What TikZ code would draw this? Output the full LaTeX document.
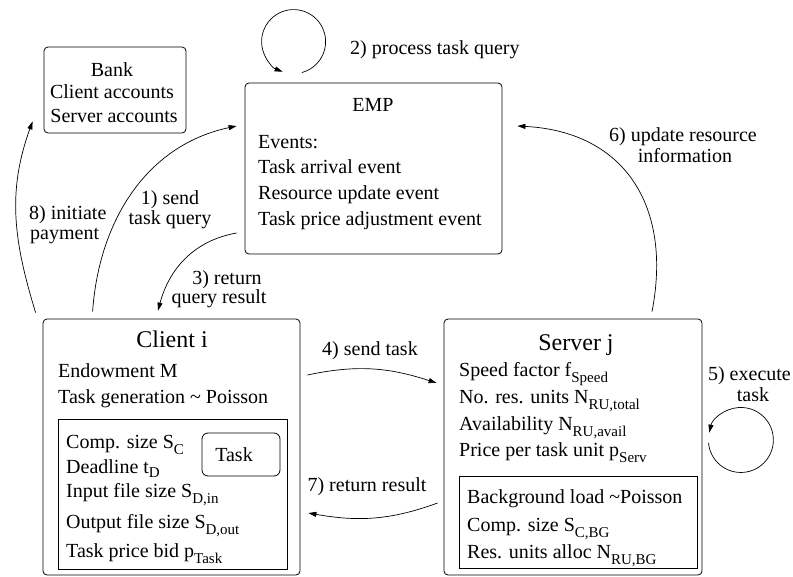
\documentclass[tikz,border=0pt]{standalone}
\usepackage{fontspec}
\setmainfont{Liberation Serif}
\usetikzlibrary{
positioning,%
arrows.meta
}
\newcommand{\lowsub}[2][6pt]{\raisebox{-#1}{\fontsize{15}{15}\selectfont #2}}
\tikzset{
    box/.style={draw, rounded corners=4pt, line width=0.8pt, inner sep=0pt},
    subbox/.style={draw, line width=0.8pt, inner sep=0pt},
    txt/.style={inner sep=0pt, anchor=base west, font=\fontsize{20}{24}\selectfont},
    ctxt/.style={inner sep=0pt, anchor=base, font=\fontsize{20}{24}\selectfont},
    head/.style={inner sep=0pt, anchor=base, font=\fontsize{24}{28}\selectfont},
    flow/.style={-{Triangle[length=8pt,width=5pt]}, line width=0.7pt}
}

\begin{document}
\begin{tikzpicture}[x=1pt, y=1pt]
            \useasboundingbox (0,0) rectangle (793,-576);
            % ---- boxes
            \node[box, minimum width=142, minimum height=86] (bank) at (115,-90) {};
            \node[box, minimum width=257, minimum height=171] (emp) at (373.5,-168.5) {};
            \node[box, minimum width=257, minimum height=256] (client) at (171.5,-447) {};
            \node[subbox, minimum width=229, minimum height=150] (clin) at (172.5,-494) {};
            \node[box, rounded corners=6pt, minimum width=78, minimum height=43] (task) at (241,-454.5) {};
            \node[box, minimum width=258, minimum height=256] (server) at (573,-447) {};
            \node[subbox, minimum width=238, minimum height=92] (srvin) at (578,-522) {};
            % ---- bank
            \node[ctxt] (bank0) at (112,-76) {Bank};
            \node[ctxt] (bank1) at (112,-98) {Client accounts};
            \node[ctxt] (bank2) at (114,-122) {Server accounts};
            % ---- emp
            \node[ctxt] (emp0) at (373,-111) {EMP};
            \node[txt] (emp1) at (258,-148) {Events:};
            \node[txt] (emp2) at (258,-173) {Task arrival event};
            \node[txt] (emp3) at (258,-199) {Resource update event};
            \node[txt] (emp4) at (258,-225) {Task price adjustment event};
            % ---- client
            \node[head] (cl0) at (172,-347) {Client i};
            \node[txt] (cl1) at (58,-377) {Endowment M};
            \node[txt] (cl2) at (58,-403) {Task generation \textasciitilde{} Poisson};
            \node[txt] (cl3) at (66,-448) {Comp. size S\lowsub{C}};
            \node[txt] (cl4) at (66,-473) {Deadline t\lowsub[4pt]{D}};
            \node[txt] (cl5) at (66,-497) {Input file size S\lowsub{D,in}};
            \node[txt] (cl6) at (66,-528) {Output file size S\lowsub{D,out}};
            \node[txt] (cl7) at (66,-557) {Task price bid p\lowsub{Task}};
            \node[ctxt] (task0) at (234,-461) {Task};
            % ---- server
            \node[head] (sv0) at (576,-350) {Server j};
            \node[txt] (sv1) at (459,-376) {Speed factor f\lowsub{Speed}};
            \node[txt] (sv2) at (459,-403) {No. res. units N\lowsub{RU,total}};
            \node[txt] (sv3) at (459,-430) {Availability N\lowsub{RU,avail}};
            \node[txt] (sv4) at (459,-456) {Price per task unit p\lowsub{Serv}};
            \node[txt] (sv5) at (467,-503) {Background load \textasciitilde Poisson};
            \node[txt] (sv6) at (467,-531) {Comp. size S\lowsub{C,BG}};
            \node[txt] (sv7) at (467,-558) {Res. units alloc N\lowsub{RU,BG}};
            % ---- labels
            \node[txt] (l2) at (350,-54) {2) process task query};
            \node[ctxt] (l1a) at (170,-204) {1) send};
            \node[ctxt] (l1b) at (170,-224) {task query};
            \node[txt] (l8a) at (29,-219) {8) initiate};
            \node[txt] (l8b) at (30,-239) {payment};
            \node[ctxt] (l3a) at (227,-284) {3) return};
            \node[ctxt] (l3b) at (219,-303) {query result};
            \node[ctxt] (l6a) at (683,-141) {6) update resource};
            \node[ctxt] (l6b) at (685,-162) {information};
            \node[ctxt] (l4) at (370,-355) {4) send task};
            \node[ctxt] (l7) at (367,-491) {7) return result};
            \node[ctxt, anchor=base east] (l5a) at (791,-380) {5) execute};
            \node[ctxt] (l5b) at (753,-401) {task};
            % ---- flows
            \draw[flow] ([shift={(50,7)}]client.north west) to[out=86, in=192] ([shift={(-8,42.5)}]emp.west);
            \draw[flow] ([shift={(-7,6)}]client.north west) to[out=107, in=250] ([shift={(-11,12)}]bank.south west);
            \draw[flow] ([shift={(-8,-64.5)}]emp.west) to[out=190, in=75] ([shift={(-13.5,8)}]client.north);
            \draw[flow] ([shift={(7,72)}]client.east) to[out=12, in=162] ([shift={(-7,64)}]server.west);
            \draw[flow] ([shift={(-6,-56)}]server.west) to[out=200, in=350] ([shift={(8,-66)}]client.east);
            \draw[flow] ([shift={(79,7)}]server.north) to[out=79, in=357, looseness=1.2] ([shift={(15,42.5)}]emp.east);
            \draw[flow] ([shift={(57.3,10.1)}]emp.north west) arc[start angle=-75, end angle=250, radius=32];
            \draw[flow] ([shift={(6.1,4.2)}]server.east) arc[start angle=185, end angle=527, radius=32.5];
\end{tikzpicture}
\end{document}
